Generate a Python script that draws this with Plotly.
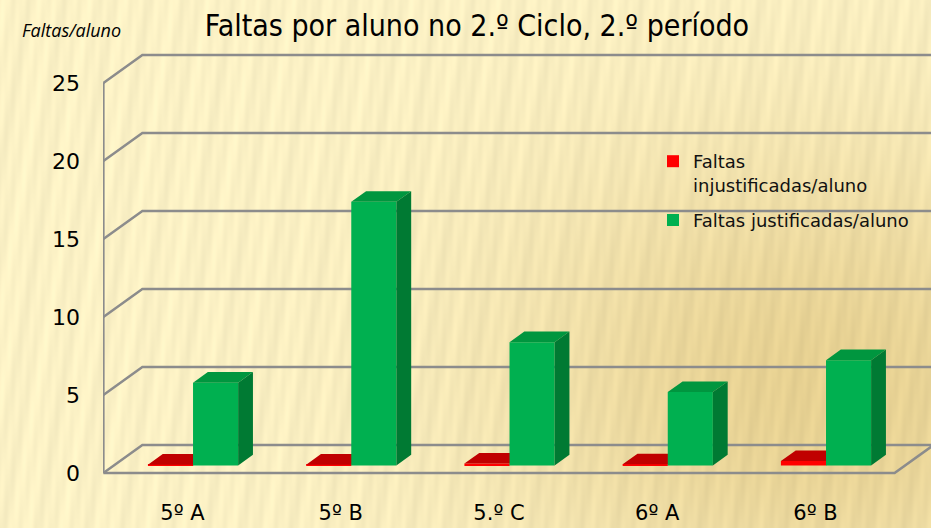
import base64, struct, zlib
import numpy as np
import plotly.graph_objects as go

# ---------------- data ----------------
categories = ["5º A", "5º B", "5.º C", "6º A", "6º B"]
injustificadas = [0.05, 0.05, 0.12, 0.07, 0.28]
justificadas = [5.3, 16.9, 7.9, 4.7, 6.75]
y_ticks = [0, 5, 10, 15, 20, 25]
series_names = ["Faltas<br>injustificadas/aluno", "Faltas justificadas/aluno"]

# ---------------- pseudo-3D styling ----------------
W, H = 931, 528
ML, MR, MT, MB = 103, 0, 40, 30
DX = 0.2464     # depth offset (category units) for the full floor depth
DY = 1.795      # depth offset (value units) for the full floor depth
D0, D1 = 0.27, 0.65   # bar front / back depth fraction
BW = 0.285            # bar width (category units)
X_RANGE = [-0.5024, 4.730]
Y_RANGE = [-1.603, 27.756]
GRID = "#8c8c8c"

def P(c, v, d):
    return c + d * DX, v + d * DY

# ---------------- background texture ----------------
def make_bg():
    yy, xx = np.mgrid[0:H, 0:W].astype(float)
    base = np.array([252, 242, 198], float)
    tan = np.array([231, 209, 146], float)
    w = np.exp(-(((xx - 820) / 340) ** 2 + ((yy - 390) / 260) ** 2))
    w = np.clip(w * 1.0, 0, 1)[..., None]
    col = base * (1 - w) + tan * w
    s = (0.5 * np.sin(2 * np.pi * (xx + 0.18 * yy) / 17.0)
         + 0.3 * np.sin(2 * np.pi * (xx + 0.12 * yy) / 41.0 + 1.0)
         + 0.2 * np.sin(2 * np.pi * xx / 7.3))
    col = col * (1 + 0.032 * s)[..., None]
    arr = np.clip(col, 0, 255).astype(np.uint8)
    raw = b"".join(b"\x00" + arr[i].tobytes() for i in range(H))

    def chunk(tag, data):
        return (struct.pack(">I", len(data)) + tag + data
                + struct.pack(">I", zlib.crc32(tag + data) & 0xFFFFFFFF))
    png = (b"\x89PNG\r\n\x1a\n"
           + chunk(b"IHDR", struct.pack(">IIBBBBB", W, H, 8, 2, 0, 0, 0))
           + chunk(b"IDAT", zlib.compress(raw, 9))
           + chunk(b"IEND", b""))
    return "data:image/png;base64," + base64.b64encode(png).decode()

fig = go.Figure()

# ---------------- bars ----------------
xs = list(range(len(categories)))
specs = [
    (injustificadas, series_names[0], "#FF0000", "#C00000", "#A00000", -BW, 1, "g1"),
    (justificadas, series_names[1], "#00B050", "#00963F", "#007A33", 0.0, 3, "g2"),
]
for vals, name, c_front, c_top, c_side, off, z, grp in specs:
    fig.add_trace(go.Bar(
        x=xs, y=vals, base=D0 * DY, offset=off + D0 * DX, width=BW,
        name=name, legendgroup=grp,
        marker=dict(color=c_front, line=dict(width=0)),
        zorder=z, hoverinfo="skip"))
    tx, ty, sx, sy = [], [], [], []
    for i, v in zip(xs, vals):
        c0, c1 = i + off, i + off + BW
        for pt in (P(c0, v, D0), P(c1, v, D0), P(c1, v, D1), P(c0, v, D1)):
            tx.append(pt[0]); ty.append(pt[1])
        tx.append(None); ty.append(None)
        for pt in (P(c1, 0, D0), P(c1, v, D0), P(c1, v, D1), P(c1, 0, D1)):
            sx.append(pt[0]); sy.append(pt[1])
        sx.append(None); sy.append(None)
    fig.add_trace(go.Scatter(x=tx, y=ty, fill="toself", fillcolor=c_top, mode="none",
                             showlegend=False, hoverinfo="skip", zorder=z + 1))
    fig.add_trace(go.Scatter(x=sx, y=sy, fill="toself", fillcolor=c_side, mode="none",
                             showlegend=False, hoverinfo="skip", zorder=z + 1))

# ---------------- walls / gridlines ----------------
cL, cR = -0.5, len(categories) - 0.5
shapes = []
for t in y_ticks:
    a = P(cL, t, 0); b = P(cL, t, 1); e = P(cR, t, 1)
    shapes.append(dict(type="path", xref="x", yref="y", layer="below",
                       path=f"M{a[0]},{a[1]} L{b[0]},{b[1]} L{e[0]},{e[1]}",
                       line=dict(color=GRID, width=2.5)))
f0 = P(cL, 0, 0); f1 = P(cR, 0, 0); f2 = P(cR, 0, 1)
shapes.append(dict(type="path", xref="x", yref="y", layer="below",
                   path=f"M{f0[0]},{f0[1]} L{f1[0]},{f1[1]} L{f2[0]},{f2[1]}",
                   line=dict(color=GRID, width=2.5)))
shapes.append(dict(type="line", xref="x", yref="y", layer="below",
                   x0=cL, x1=cL, y0=0, y1=y_ticks[-1],
                   line=dict(color=GRID, width=2.5)))

pw = W - ML - MR
ph = H - MT - MB
fig.update_layout(
    template="none",
    width=W, height=H,
    margin=dict(l=ML, r=MR, t=MT, b=MB, pad=0),
    paper_bgcolor="#FBF0C6", plot_bgcolor="rgba(0,0,0,0)",
    barmode="overlay",
    shapes=shapes,
    images=[dict(source=make_bg(), xref="paper", yref="paper",
                 x=-ML / pw, y=1 + MT / ph, sizex=W / pw, sizey=H / ph,
                 sizing="stretch", xanchor="left", yanchor="top", layer="below")],
    title=dict(text="Faltas por aluno no 2.º Ciclo, 2.º período",
               x=477 / W, xanchor="center", xref="container",
               y=1 - 25 / H, yanchor="middle", yref="container",
               font=dict(family="DejaVu Sans Condensed, Liberation Sans Narrow, sans-serif",
                         size=30, color="#000000")),
    xaxis=dict(range=X_RANGE, tickmode="array", tickvals=xs, ticktext=categories,
               showgrid=False, zeroline=False, showline=False, ticks="",
               automargin=False, fixedrange=True, ticklabelstandoff=0,
               tickfont=dict(family="DejaVu Sans", size=21, color="#000000")),
    yaxis=dict(range=Y_RANGE, tickmode="array", tickvals=y_ticks,
               ticktext=[str(t) for t in y_ticks],
               showgrid=False, zeroline=False, showline=False, ticks="",
               automargin=False, fixedrange=True, ticklabelstandoff=22,
               tickfont=dict(family="DejaVu Sans", size=22, color="#000000")),
    legend=dict(x=(653 - ML) / pw, xanchor="left", y=(H - MB - 143) / ph, yanchor="top",
                bgcolor="rgba(0,0,0,0)", borderwidth=0, valign="top",
                font=dict(family="DejaVu Sans", size=18, color="#111111"),
                tracegroupgap=9),
    annotations=[dict(text="<i>Faltas/aluno</i>", xref="paper", yref="paper",
                      x=(71 - ML) / pw, y=1 + (MT - 30) / ph,
                      xanchor="center", yanchor="middle", showarrow=False,
                      font=dict(family="Open Sans", size=18, color="#000000"))],
)

fig.write_html("out.html", config={"displayModeBar": False},
               post_script="document.body.style.margin='0';")
